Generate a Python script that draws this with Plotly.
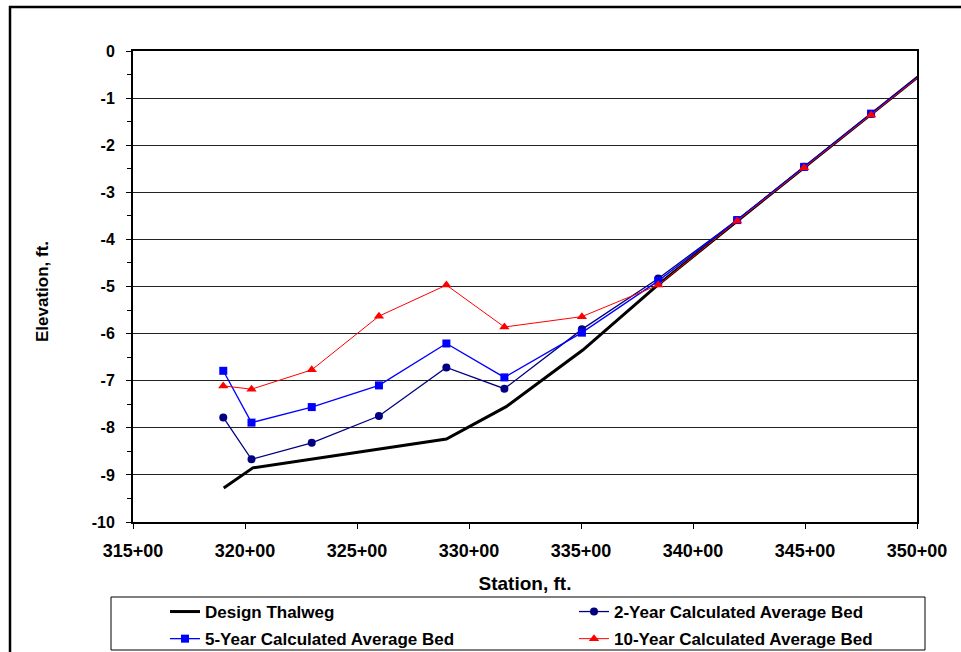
import plotly.graph_objects as go

# Data (station in ft, elevation in ft)
thalweg_x = [31905, 32035, 32899, 33166, 33508, 33842, 34197, 34496, 34795, 35020]
thalweg_y = [-9.28, -8.85, -8.24, -7.55, -6.35, -4.97, -3.61, -2.47, -1.35, -0.49]

station_x = [31903, 32029, 32298, 32598, 32899, 33158, 33504, 33845, 34197, 34496, 34795, 35020]
year2_y = [-7.78, -8.67, -8.32, -7.75, -6.72, -7.17, -5.91, -4.83, -3.59, -2.46, -1.34, -0.49]
year5_y = [-6.79, -7.89, -7.56, -7.10, -6.21, -6.93, -5.98, -4.88, -3.59, -2.46, -1.33, -0.49]
year10_y = [-7.11, -7.18, -6.77, -5.63, -4.97, -5.86, -5.64, -4.97, -3.61, -2.48, -1.36, -0.50]

x_tick_vals = [31500, 32000, 32500, 33000, 33500, 34000, 34500, 35000]
x_tick_text = ["315+00", "320+00", "325+00", "330+00", "335+00", "340+00", "345+00", "350+00"]
y_tick_vals = [0, -1, -2, -3, -4, -5, -6, -7, -8, -9, -10]
y_tick_text = ["0", "-1", "-2", "-3", "-4", "-5", "-6", "-7", "-8", "-9", "-10"]

FONT = "Liberation Sans, Arial, sans-serif"

fig = go.Figure()
fig.add_trace(go.Scatter(x=thalweg_x, y=thalweg_y, mode="lines", name="Design Thalweg",
                         line=dict(color="black", width=3), legend="legend", legendgroup="g1"))
fig.add_trace(go.Scatter(x=station_x, y=year2_y, mode="lines+markers", name="2-Year Calculated Average Bed",
                         line=dict(color="#000080", width=1.3),
                         marker=dict(symbol="circle", size=8, color="#000080"),
                         legend="legend2", legendgroup="g2"))
fig.add_trace(go.Scatter(x=station_x, y=year5_y, mode="lines+markers", name="5-Year Calculated Average Bed",
                         line=dict(color="#0000ff", width=1.3),
                         marker=dict(symbol="square", size=8, color="#0000ff"),
                         legend="legend", legendgroup="g3"))
fig.add_trace(go.Scatter(x=station_x, y=year10_y, mode="lines+markers", name="10-Year Calculated Average Bed",
                         line=dict(color="#ff0000", width=1.0),
                         marker=dict(symbol="triangle-up", size=9, color="#ff0000"),
                         legend="legend2", legendgroup="g4"))

W, H = 961, 652
L, R, T, B = 133, 44, 51, 130
pw, ph = W - L - R, H - T - B

def px_x(p):
    return (p - L) / pw

def px_y(p):
    return 1 - (p - T) / ph

shapes = [
    dict(type="rect", xref="paper", yref="paper", x0=px_x(10), x1=px_x(1000), y0=px_y(700), y1=px_y(7),
         line=dict(color="black", width=2.5), fillcolor="rgba(0,0,0,0)", layer="below"),
    dict(type="rect", xref="paper", yref="paper", x0=px_x(111), x1=px_x(925), y0=px_y(650), y1=px_y(597),
         line=dict(color="black", width=1), fillcolor="rgba(0,0,0,0)"),
]

legfont = dict(family=FONT, size=17, color="black", weight="bold")
legcommon = dict(orientation="v", xanchor="left", yanchor="top", bgcolor="rgba(0,0,0,0)",
                 borderwidth=0, font=legfont, tracegroupgap=2, itemwidth=30,
                 xref="container", yref="container")

fig.update_layout(
    width=W, height=H,
    margin=dict(l=L, r=R, t=T, b=B, autoexpand=False),
    paper_bgcolor="white", plot_bgcolor="white",
    font=dict(family=FONT, color="black", size=14, weight="bold"),
    showlegend=True,
    legend=dict(x=165 / W, y=1 - 594 / H, **legcommon),
    legend2=dict(x=574 / W, y=1 - 594 / H, **legcommon),
    shapes=shapes,
    annotations=[dict(text="Elevation, ft.", xref="paper", yref="paper", x=px_x(42), y=px_y(292),
                      xanchor="center", yanchor="middle", textangle=-90, showarrow=False,
                      font=dict(family=FONT, size=17, color="black", weight="bold"))],
    xaxis=dict(range=[31500, 35000], tickmode="array", tickvals=x_tick_vals, ticktext=x_tick_text,
               showgrid=False, showline=True, linecolor="black", linewidth=2, mirror=True,
               ticks="outside", ticklen=5, tickwidth=1, tickcolor="black", ticklabelstandoff=6,
               tickfont=dict(family=FONT, size=18, color="black", weight="bold"), zeroline=False,
               title=dict(text="Station, ft.", font=dict(family=FONT, size=19, weight="bold"), standoff=17)),
    yaxis=dict(range=[-10, 0], tickmode="array", tickvals=y_tick_vals, ticktext=y_tick_text,
               showgrid=True, gridcolor="#222222", gridwidth=1,
               showline=True, linecolor="black", linewidth=2, mirror=True,
               ticks="outside", ticklen=5, tickwidth=1, tickcolor="black", ticklabelstandoff=8,
               minor=dict(dtick=0.5, ticks="outside", ticklen=4, tickcolor="black", showgrid=False),
               tickfont=dict(family=FONT, size=16, color="black", weight="bold"), zeroline=False),
)

fig.write_html("out.html", config={"displayModeBar": False},
               post_script="document.body.style.margin='0px';")
